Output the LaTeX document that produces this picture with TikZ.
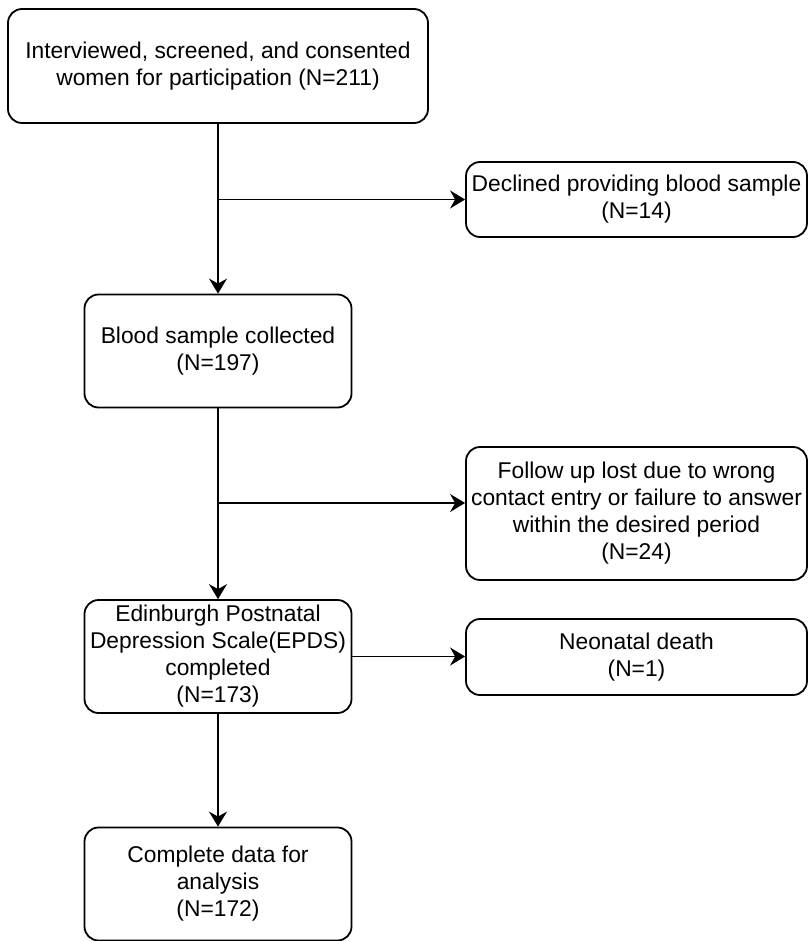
\documentclass[tikz,border=0pt]{standalone}
\usepackage{fontspec}
\setmainfont{Liberation Sans}
\usetikzlibrary{shapes, arrows.meta, positioning}
\tikzstyle{caja} = [draw=black, line width=1.8pt, rectangle, rounded corners=14pt, align=center, inner sep=0pt, font=\fontsize{22.8}{27}\selectfont]
\tikzstyle{cajaprincipal} = [caja, minimum width=267pt, minimum height=113pt]
\tikzstyle{cajalateral} = [caja, minimum width=341pt]
\tikzstyle{flecha} = [line width=1.8pt, -{Stealth[length=15pt, width=18pt, inset=5pt]}]

\begin{document}
\begin{tikzpicture}[x=1pt, y=-1pt]
	\useasboundingbox (0,0) rectangle (808,941);
	% cajas principales
	\node [caja, minimum width=420pt, minimum height=114pt] (entrevistadas) at (218,66) {Interviewed, screened, and consented\\women for participation (N=211)};
	\node [cajaprincipal] (sangre) at (218,351) {Blood sample collected\\(N=197)};
	\node [cajaprincipal] (epds) at (218,656.5) {Edinburgh Postnatal\\Depression Scale(EPDS)\\completed\\(N=173)};
	\node [cajaprincipal] (completos) at (218,884) {Complete data for\\analysis\\(N=172)};
	% cajas de exclusion
	\node [cajalateral, minimum height=75pt] (rechazo) at (636.5,199.5) {Declined providing blood sample\\(N=14)};
	\node [cajalateral, minimum height=133pt] (perdidas) at (636.5,513.5) {Follow up lost due to wrong\\contact entry or failure to answer\\within the desired period\\(N=24)};
	\node [cajalateral, minimum height=76pt] (muerte) at (636.5,657) {Neonatal death\\(N=1)};
	% flechas
	\draw [flecha] (entrevistadas.south) -- (sangre.north);
	\draw [flecha] (entrevistadas.south |- rechazo.west) -- (rechazo.west);
	\coordinate (rama) at (218,503);
	\draw [flecha] (sangre.south) -- (epds.north);
	\draw [flecha] (rama) -- (rama -| perdidas.west);
	\draw [flecha] (epds.east) -- (epds.east -| muerte.west);
	\draw [flecha] (epds.south) -- (completos.north);
\end{tikzpicture}
\end{document}
